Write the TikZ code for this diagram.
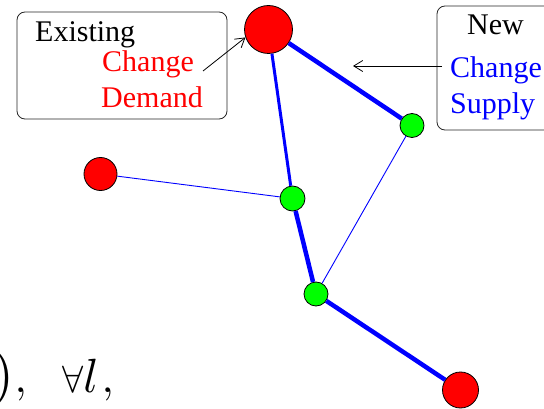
\documentclass[tikz,border=0pt]{standalone}
\usepackage{fontspec}
\usepackage{graphicx}
\setmainfont{Liberation Serif}
\usetikzlibrary{arrows.meta}
\begin{document}
\begin{tikzpicture}[x=1pt,y=-1pt,
  vtx/.style={circle,draw=black,line width=0.8pt,inner sep=0pt,minimum size=#1},
  red vtx/.style={vtx=#1,fill=red},
  green vtx/.style={vtx=#1,fill=green},
  heavy/.style={draw=blue,line width=4.5pt},
  medium/.style={draw=blue,line width=3pt},
  light/.style={draw=blue,line width=0.9pt},
  callout/.style={draw=black!85,line width=0.8pt,rounded corners=8pt},
  lbl/.style={anchor=base west,inner sep=0pt,font=\fontsize{30}{36}\selectfont},
  formula/.style={inner sep=0pt},
  pointer/.style={draw=black,line width=0.8pt,-{Straight Barb[length=9pt,width=11pt,line width=0.8pt]}}]
\useasboundingbox (0,0) rectangle (544,409);
% boxes
\draw[callout] (17,12) rectangle (227,119);
\draw[callout] (437,6) rectangle (560,130);
% texts
\node[lbl] (ex) at (35,42) {Existing};
\node[lbl,text=red] (chd) at (102,72) {Change};
\node[lbl,text=red] (dem) at (101,108) {Demand};
\node[lbl] (new) at (467,35) {New};
\node[lbl,text=blue] (chs) at (450,78) {Change};
\node[lbl,text=blue] (sup) at (450,114) {Supply};
% vertices
\node[red vtx=48pt] (A) at (268.5,29.5) {};
\node[green vtx=24pt] (B) at (412,125.5) {};
\node[red vtx=33pt] (C) at (100.5,174) {};
\node[green vtx=25pt] (D) at (292.5,198.5) {};
\node[green vtx=24pt] (E) at (316,294) {};
\node[red vtx=36pt] (F) at (460.5,390) {};
% edges
\draw[heavy] (A) -- (B);
\draw[medium] (A) -- (D);
\draw[light] (C) -- (D);
\draw[heavy] (D) -- (E);
\draw[light] (B) -- (E);
\draw[heavy] (E) -- (F);
% pointers
\coordinate (p1) at (203,71);
\coordinate (p2) at (442,66);
\coordinate (t2) at (353,66);
\draw[pointer] (p1) -- (A.199);
\draw[pointer] (p2) -- (t2);
% formula fragment
\node[formula,anchor=base east] (f1) at (27,392) {\scalebox{5.6}{$)$}\scalebox{4.4}{$,$}};
\node[formula,anchor=base west] (f2) at (62,392) {\scalebox{3.8}{$\forall$}\scalebox{4.8}{$l$}\hspace{3pt}\scalebox{4.4}{$,$}};
\end{tikzpicture}
\end{document}
